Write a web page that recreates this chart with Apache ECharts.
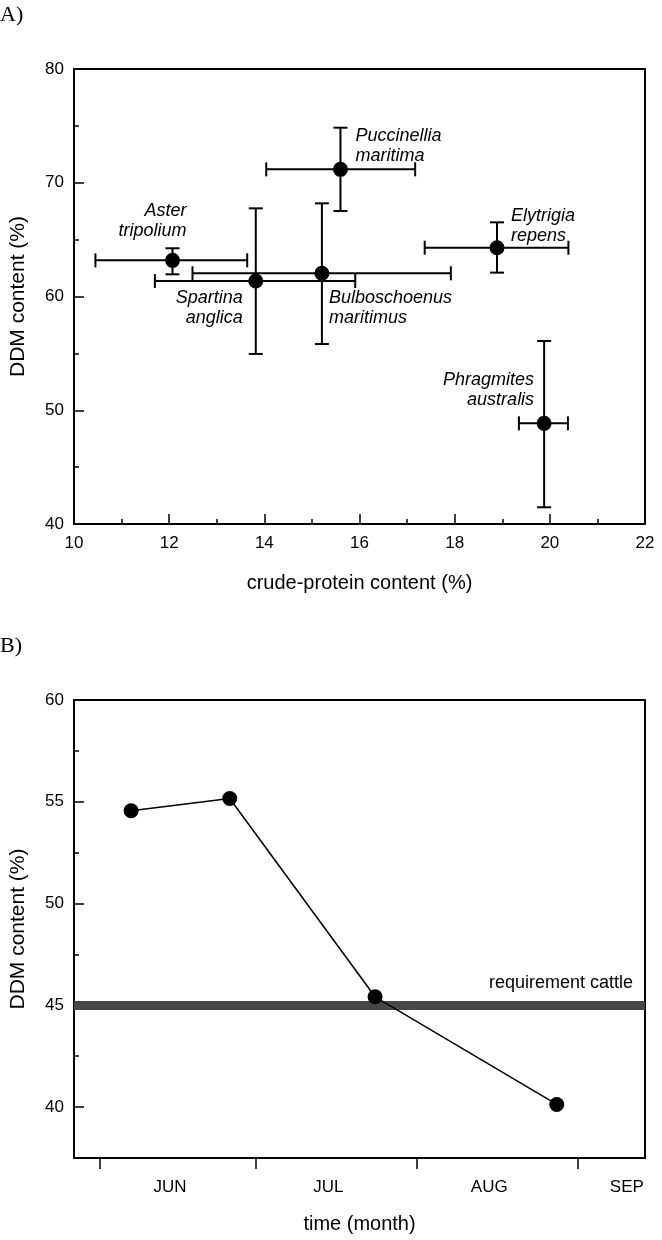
<!DOCTYPE html>
<html>
<head>
<meta charset="utf-8">
<script src="https://cdn.jsdelivr.net/npm/echarts@6/dist/echarts.min.js"></script>
<style>
html,body{margin:0;padding:0;background:#fff;}
#chart{width:662px;height:1240px;}
</style>
</head>
<body>
<div id="chart"></div>
<script>
// ---------- Panel A data ----------
const speciesNames = ['Aster\ntripolium','Spartina\nanglica','Bulboschoenus\nmaritimus','Puccinellia\nmaritima','Elytrigia\nrepens','Phragmites\naustralis'];
const proteinMean = [12.07, 13.82, 15.21, 15.60, 18.89, 19.88];
const proteinLow  = [10.45, 11.70, 12.49, 14.04, 17.37, 19.35];
const proteinHigh = [13.64, 15.91, 17.92, 17.17, 20.39, 20.38];
const ddmMean = [63.18, 61.36, 62.04, 71.18, 64.29, 48.85];
const ddmLow  = [61.95, 54.95, 55.82, 67.52, 62.10, 41.47];
const ddmHigh = [64.24, 67.75, 68.19, 74.84, 66.52, 56.09];

// ---------- Panel B data ----------
const monthLabels = ['JUN','JUL','AUG','SEP'];
const monthStartDays = [0, 30, 61, 92];      // days since 1 June
const monthLabelDays = [13.5, 44, 75, 101.5];
const sampleDays = [6, 25, 53, 88];
const ddmSeason = [54.56, 55.16, 45.42, 40.13];
const cattleRequirement = 45;
const ddmMajorTicksB = [40, 45, 50, 55, 60];
const ddmMinorTicksB = [42.5, 47.5, 52.5, 57.5];

// ---------- styling (not data) ----------
const FONT = 'Liberation Sans, Arial, sans-serif';
const labelPlacement = [
  {align:'right', dx:14,  dy:-39},
  {align:'right', dx:-13, dy:27},
  {align:'left',  dx:7,   dy:35},
  {align:'left',  dx:15,  dy:-23},
  {align:'left',  dx:14,  dy:-22},
  {align:'right', dx:-10, dy:-33}
];

const errRows = speciesNames.map((n, i) => [proteinMean[i], ddmMean[i], proteinLow[i], proteinHigh[i], ddmLow[i], ddmHigh[i]]);

function errRender(params, api) {
  const x = api.value(0), y = api.value(1);
  const c = api.coord([x, y]);
  const l = api.coord([api.value(2), y]);
  const r = api.coord([api.value(3), y]);
  const b = api.coord([x, api.value(4)]);
  const t = api.coord([x, api.value(5)]);
  const h = 7;
  const st = {stroke:'#000', lineWidth:2};
  const p = labelPlacement[params.dataIndex];
  return {
    type:'group',
    children:[
      {type:'line', shape:{x1:l[0], y1:c[1], x2:r[0], y2:c[1]}, style:st},
      {type:'line', shape:{x1:l[0], y1:c[1]-h, x2:l[0], y2:c[1]+h}, style:st},
      {type:'line', shape:{x1:r[0], y1:c[1]-h, x2:r[0], y2:c[1]+h}, style:st},
      {type:'line', shape:{x1:c[0], y1:b[1], x2:c[0], y2:t[1]}, style:st},
      {type:'line', shape:{x1:c[0]-h, y1:b[1], x2:c[0]+h, y2:b[1]}, style:st},
      {type:'line', shape:{x1:c[0]-h, y1:t[1], x2:c[0]+h, y2:t[1]}, style:st},
      {type:'text', x:c[0]+p.dx, y:c[1]+p.dy, style:{
        text: speciesNames[params.dataIndex], fontSize:18, fontStyle:'italic', fontFamily:FONT,
        align:p.align, verticalAlign:'middle', lineHeight:20, fill:'#000'}}
    ]
  };
}

const axisLbl = {color:'#000', fontSize:17, fontFamily:FONT};
const xNameStyle = {color:'#000', fontSize:20, fontFamily:FONT};
const yNameStyle = {color:'#000', fontSize:21, fontFamily:FONT};
const blackLine = {onZero:false, lineStyle:{color:'#000', width:2}};
const titleStyle = {fontFamily:'Liberation Serif, serif', fontSize:22, fontWeight:'normal', color:'#000'};

const option = {
  animation:false,
  backgroundColor:'#fff',
  title:[
    {text:'A)', left:0, top:4, padding:0, textStyle:titleStyle},
    {text:'B)', left:0, top:635, padding:0, textStyle:titleStyle}
  ],
  grid:[
    {left:72, right:17, top:69, height:455, show:true, borderColor:'#000', borderWidth:2, backgroundColor:'transparent'},
    {left:73, right:17, top:700, height:458, show:true, borderColor:'#000', borderWidth:2, backgroundColor:'transparent'}
  ],
  xAxis:[
    {gridIndex:0, type:'value', min:10, max:22, interval:2,
     axisLine:blackLine,
     axisTick:{inside:true, length:10, lineStyle:{color:'#000', width:1.5}},
     minorTick:{show:true, splitNumber:2, length:5, lineStyle:{color:'#000', width:1.5}},
     splitLine:{show:false}, minorSplitLine:{show:false},
     axisLabel:Object.assign({margin:11}, axisLbl),
     name:'crude-protein content (%)', nameLocation:'middle', nameGap:49, nameTextStyle:xNameStyle},
    {gridIndex:1, type:'value', min:-5, max:105,
     axisLine:blackLine,
     axisTick:{inside:false, length:11, customValues:monthStartDays, lineStyle:{color:'#000', width:1.5}},
     splitLine:{show:false},
     axisLabel:Object.assign({margin:21, customValues:monthLabelDays,
       formatter:function(v){ const i = monthLabelDays.indexOf(v); return i >= 0 ? monthLabels[i] : ''; }}, axisLbl),
     name:'time (month)', nameLocation:'middle', nameGap:56, nameTextStyle:xNameStyle}
  ],
  yAxis:[
    {gridIndex:0, type:'value', min:40, max:80, interval:10,
     axisLine:blackLine,
     axisTick:{inside:true, length:10, lineStyle:{color:'#000', width:1.5}},
     minorTick:{show:true, splitNumber:2, length:5, lineStyle:{color:'#000', width:1.5}},
     splitLine:{show:false}, minorSplitLine:{show:false},
     axisLabel:Object.assign({margin:10}, axisLbl),
     name:'DDM content (%)', nameLocation:'middle', nameGap:45, nameRotate:90, nameTextStyle:yNameStyle},
    {gridIndex:1, type:'value', min:37.5, max:60,
     axisLine:blackLine,
     axisTick:{inside:true, length:10, customValues:ddmMajorTicksB, lineStyle:{color:'#000', width:1.5}},
     splitLine:{show:false},
     axisLabel:Object.assign({margin:10, customValues:ddmMajorTicksB}, axisLbl),
     name:'DDM content (%)', nameLocation:'middle', nameGap:45, nameRotate:90, nameTextStyle:yNameStyle},
    {gridIndex:1, type:'value', min:37.5, max:60, position:'left',
     axisLine:{show:false, onZero:false},
     axisTick:{inside:true, length:5, customValues:ddmMinorTicksB, lineStyle:{color:'#000', width:1.5}},
     splitLine:{show:false},
     axisLabel:{show:false}}
  ],
  series:[
    {type:'custom', xAxisIndex:0, yAxisIndex:0, renderItem:errRender, data:errRows, encode:{x:0, y:1}, z:2, silent:true},
    {type:'scatter', xAxisIndex:0, yAxisIndex:0, symbol:'circle', symbolSize:15,
     itemStyle:{color:'#000', opacity:1}, data:proteinMean.map((x,i)=>[x, ddmMean[i]]), z:3},
    {type:'line', xAxisIndex:1, yAxisIndex:1, symbol:'circle', symbolSize:15, showSymbol:true,
     lineStyle:{color:'#000', width:1.5}, itemStyle:{color:'#000', opacity:1},
     data:sampleDays.map((d,i)=>[d, ddmSeason[i]]), z:3,
     markLine:{silent:true, symbol:'none', z:2,
       lineStyle:{color:'#474747', width:9, type:'solid'},
       label:{show:true, position:'insideEndTop', formatter:'requirement cattle', color:'#000',
              fontSize:18, fontFamily:FONT, distance:[12, 13]},
       data:[{yAxis:cattleRequirement}]}}
  ]
};

const chart = echarts.init(document.getElementById('chart'), null, {renderer:'canvas'});
chart.setOption(option);
</script>
</body>
</html>
